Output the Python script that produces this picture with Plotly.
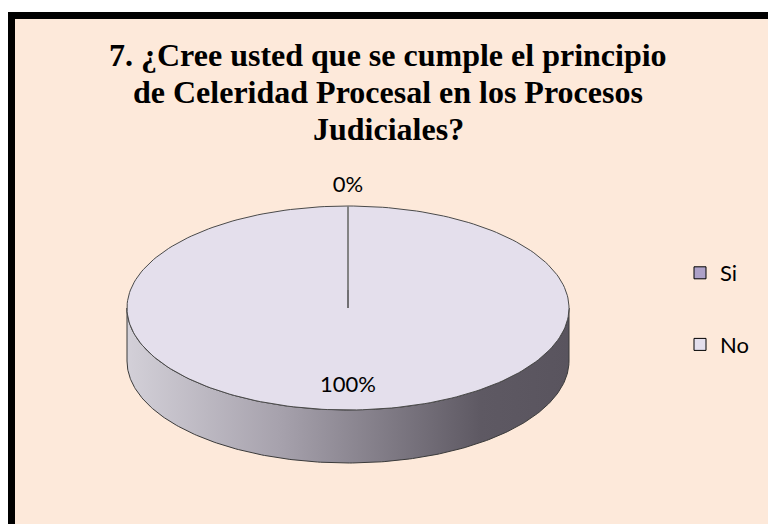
import numpy as np
import plotly.graph_objects as go

# Chart data
labels = ["Si", "No"]
values = [0, 100]
colors = ["#ADA1C8", "#E4DFEC"]

title_lines = [
    "7. ¿Cree usted que se cumple el principio",
    "de Celeridad Procesal en los Procesos",
    "Judiciales?",
]

# Geometry of the tilted pie (pixel space)
CX, CY = 348, 308
RX, RY = 221, 102
DEPTH = 53
BG = "#FDE9DA"
LABEL_FONT = "Lato, Carlito, sans-serif"


def arc(a0, a1, dy=0, n=240):
    """Points on the pie rim between two angles (degrees, clockwise from top)."""
    t = np.radians(np.linspace(a0, a1, n))
    return CX + RX * np.sin(t), CY - RY * np.cos(t) + dy


fig = go.Figure()

total = sum(values)
bounds = []
start = 0.0
for v in values:
    end = start + 360.0 * v / total
    bounds.append((start, end))
    start = end

# Front side walls (visible half: 90..270 degrees)
for (a0, a1), lab in zip(bounds, labels):
    s0, s1 = max(a0, 90), min(a1, 270)
    if s1 <= s0:
        continue
    xt, yt = arc(s0, s1)
    xb, yb = arc(s1, s0, dy=DEPTH)
    fig.add_trace(go.Scatter(
        x=np.concatenate([xt, xb, xt[:1]]),
        y=np.concatenate([yt, yb, yt[:1]]),
        mode="lines",
        fill="toself",
        fillgradient=dict(
            type="horizontal",
            colorscale=[[0, "#D3D0D8"], [0.35, "#A6A1AC"],
                        [0.8, "#5E5963"], [1, "#59545E"]],
        ),
        line=dict(color="#3A3A3A", width=1),
        showlegend=False,
        hoverinfo="skip",
    ))

# Top faces of the slices
for (a0, a1), lab, col in zip(bounds, labels, colors):
    if a1 <= a0:
        continue
    xa, ya = arc(a0, a1)
    fig.add_trace(go.Scatter(
        x=np.concatenate([[CX], xa, [CX]]),
        y=np.concatenate([[CY], ya, [CY]]),
        mode="lines",
        fill="toself",
        fillcolor=col,
        line=dict(color="#4A4A4A", width=1),
        name=lab,
        showlegend=False,
        hoverinfo="skip",
    ))

# Slice boundary line of the empty slice
for (a0, a1), lab in zip(bounds, labels):
    if a1 <= a0:
        xa, ya = arc(a0, a0, n=1)
        fig.add_trace(go.Scatter(
            x=[CX, xa[0]], y=[CY - 18, ya[0]],
            mode="lines", line=dict(color="#8A8A8A", width=1.5),
            showlegend=False, hoverinfo="skip",
        ))

# Percentage labels
lx, ly, lt = [], [], []
for (a0, a1), v in zip(bounds, values):
    mid = np.radians((a0 + a1) / 2)
    share = v / total
    if share < 0.05:
        r, off = 1.0, 20
    else:
        r, off = 0.77, 0
    lx.append(CX + RX * r * np.sin(mid))
    ly.append(CY - (RY * r + off) * np.cos(mid))
    lt.append(f"{v:.0f}%")
fig.add_trace(go.Scatter(
    x=lx, y=ly, text=lt, mode="text",
    textfont=dict(family=LABEL_FONT, size=22, color="#000000"),
    showlegend=False, hoverinfo="skip",
))

# Legend entries
for lab, col in zip(labels, colors):
    fig.add_trace(go.Scatter(
        x=[None], y=[None], mode="markers", name=lab, legendgroup=lab,
        marker=dict(symbol="square", size=12, color=col,
                    line=dict(color="#000000", width=1)),
    ))

# Chart frame
fig.add_shape(type="rect", xref="x", yref="y", x0=11.5, y0=15.5, x1=790, y1=560,
              line=dict(color="#000000", width=7), fillcolor=BG, layer="below")

# Title, one line at a time for Excel-like line spacing
for i, line in enumerate(title_lines):
    fig.add_annotation(
        text=f"<b>{line}</b>", x=388, y=55 + 37 * i,
        xref="x", yref="y", xanchor="center", yanchor="middle",
        showarrow=False,
        font=dict(family="Liberation Serif, Times New Roman, serif",
                  size=32, color="#000000"),
    )

fig.update_layout(
    width=768,
    height=524,
    margin=dict(l=0, r=0, t=0, b=0),
    paper_bgcolor="#FFFFFF",
    plot_bgcolor="rgba(0,0,0,0)",
    xaxis=dict(range=[0, 768], visible=False, fixedrange=True),
    yaxis=dict(range=[524, 0], visible=False, fixedrange=True),
    showlegend=True,
    legend=dict(
        x=680 / 768, xanchor="left",
        y=1 - 252 / 524, yanchor="top",
        bgcolor="rgba(0,0,0,0)",
        font=dict(family=LABEL_FONT, size=22, color="#000000"),
        tracegroupgap=40,
        itemwidth=30,
    ),
)

fig.write_html("out.html", config={"displayModeBar": False},
               post_script="document.body.style.margin = '0px';")
